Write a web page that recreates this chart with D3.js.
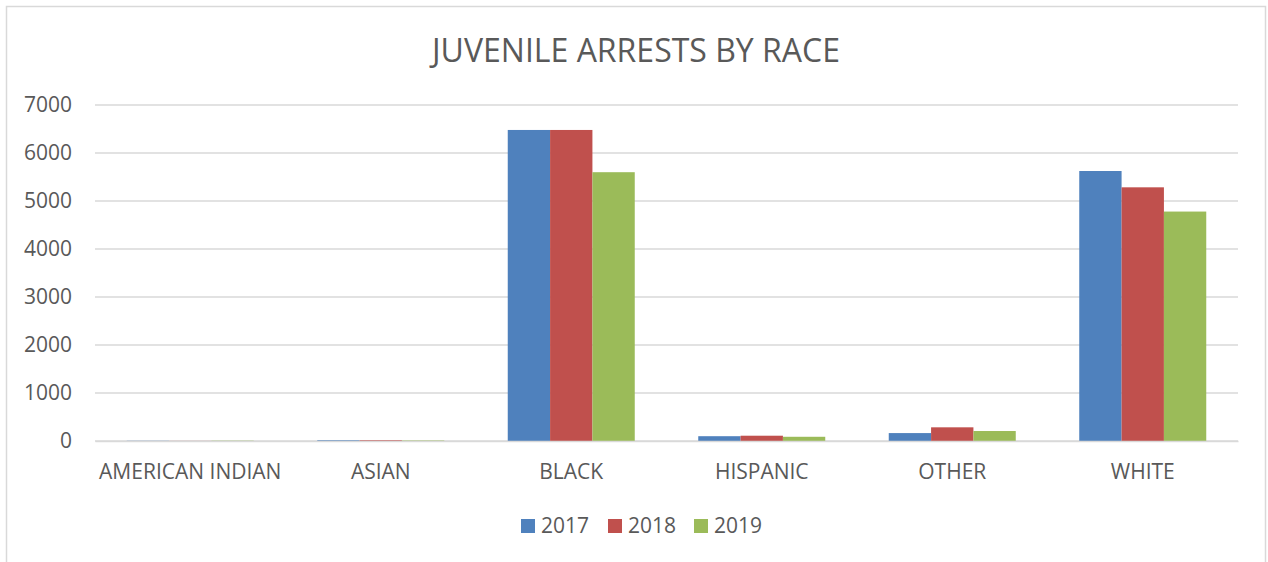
<!DOCTYPE html>
<html><head><meta charset="utf-8">
<script src="https://cdn.jsdelivr.net/npm/d3@7"></script>
<style>body{margin:0;background:#fff;}svg{display:block;font-family:"Open Sans",sans-serif;}</style>
</head><body><svg id="c" width="1268" height="562"></svg>
<script>
const categories = ["AMERICAN INDIAN","ASIAN","BLACK","HISPANIC","OTHER","WHITE"];
const years = ["2017","2018","2019"];
const v2017 = [4, 15, 6480, 100, 165, 5625];
const v2018 = [2, 15, 6480, 110, 285, 5285];
const v2019 = [6, 10, 5600, 88, 208, 4780];
const colors = ["#4f81bd","#c0504d","#9bbb59"];
const yTicks = [0,1000,2000,3000,4000,5000,6000,7000];

const svg = d3.select("#c");
svg.append("rect").attr("x",6.5).attr("y",6.5).attr("width",1259).attr("height",600)
  .attr("fill","#fff").attr("stroke","#d9d9d9").attr("stroke-width",1.5);

const m = {l:95, r:1238, t:105, b:441};
const x = d3.scaleBand().domain(categories).range([m.l,m.r]).paddingInner(1.5/4.5).paddingOuter(0.75/4.5);
const xs = d3.scaleBand().domain(years).range([0,x.bandwidth()]);
const y = d3.scaleLinear().domain([0,7000]).range([m.b,m.t]);

const g = svg.append("g");
g.selectAll("line.grid").data(yTicks).join("line").attr("class","grid")
  .attr("x1",m.l).attr("x2",m.r).attr("y1",d=>y(d)).attr("y2",d=>y(d))
  .attr("stroke","#d9d9d9").attr("stroke-width",1.5);

const yAxis = svg.append("g").attr("transform",`translate(${m.l},0)`)
  .call(d3.axisLeft(y).tickValues(yTicks).tickSize(0).tickPadding(23).tickFormat(d3.format("d")));
yAxis.select(".domain").remove();
yAxis.selectAll("text").attr("fill","#595959").style("font-size","21px").style("font-family","'Open Sans',sans-serif");

const series = [v2017,v2018,v2019];
years.forEach((yr,i)=>{
  svg.append("g").selectAll("rect").data(categories).join("rect")
    .attr("x",(c)=>x(c)+xs(yr)).attr("width",xs.bandwidth())
    .attr("y",(c,j)=>y(series[i][j])).attr("height",(c,j)=>y(0)-y(series[i][j]))
    .attr("fill",colors[i]);
});

const xAxis = svg.append("g").attr("transform",`translate(0,${m.b})`)
  .call(d3.axisBottom(d3.scaleBand().domain(categories).range([m.l,m.r])).tickSize(0).tickPadding(23));
xAxis.select(".domain").attr("stroke","#d9d9d9").attr("stroke-width",1.5);
xAxis.selectAll("text").attr("fill","#595959").style("font-size","21px").style("font-family","'Open Sans',sans-serif");

svg.append("text").attr("x",636).attr("y",62).attr("text-anchor","middle")
  .attr("fill","#595959").style("font-size","32px").text("JUVENILE ARRESTS BY RACE");

const lg = svg.append("g");
const lx = [521, 608, 694];
years.forEach((yr,i)=>{
  lg.append("rect").attr("x",lx[i]).attr("y",519).attr("width",14).attr("height",14).attr("fill",colors[i]);
  lg.append("text").attr("x",lx[i]+20).attr("y",533).attr("fill","#595959").style("font-size","21px").text(yr);
});
</script></body></html>
